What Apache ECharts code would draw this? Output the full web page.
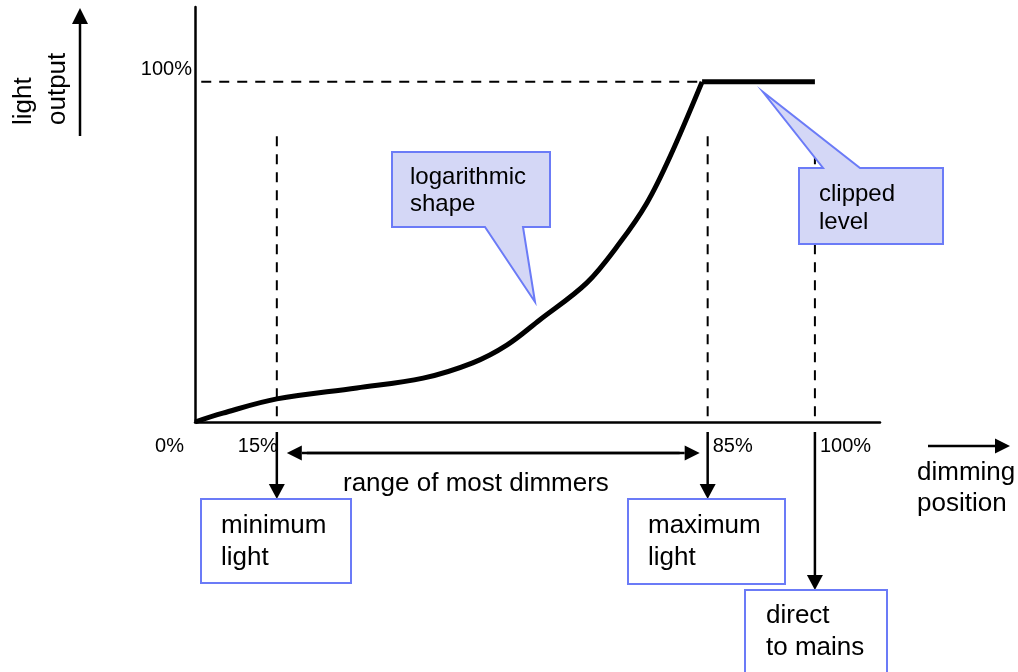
<!DOCTYPE html>
<html>
<head>
<meta charset="utf-8">
<script src="https://cdn.jsdelivr.net/npm/echarts@6/dist/echarts.min.js"></script>
<style>
  html, body { margin: 0; padding: 0; background: #fff; }
  #main { width: 1018px; height: 672px; }
</style>
</head>
<body>
<div id="main"></div>
<script>
// light output curve (x: dimming position units, y: % light)
const curveX = [0, 4.5, 13.2, 26.1, 36.8, 44.8, 50.3, 55.6, 63.2, 68.5, 72.9, 76.6, 81.8];
const curveY = [0, 2.6, 6.8, 10, 12.9, 17.4, 22.6, 30, 40.9, 52.6, 64.4, 77.9, 100];
// clipped part at full level
const clipX = [81.8, 100];
const clipY = [100, 100];
// vertical guide lines and their labels
const markerPos = [13.2, 82.7, 100];
const guideTop = 84;
const xLabels = ['0%', '15%', '85%', '100%'];
const xLabelPos = [0, 13.2, 82.7, 100];
const fullLevel = 100;
const yLabel = '100%';
const levelLineStart = -4.8;

const FONT = '"Liberation Sans", Arial, sans-serif';
const BLUE = '#6b7bf7';
const FILL = '#d4d7f6';

const chart = echarts.init(document.getElementById('main'));

const dash = { color: '#000', width: 2, type: [10, 8] };
const guideSeries = markerPos.map(x => ({
  type: 'line', symbol: 'none', silent: true, clip: false,
  lineStyle: dash,
  data: [[x, guideTop], [x, 0]]
}));

chart.setOption({
  animation: false,
  grid: { left: 195, right: 138, top: 7, bottom: 250 },
  xAxis: {
    type: 'value', min: 0, max: 110.5,
    axisLine: { show: true, lineStyle: { color: '#000', width: 2.5 } },
    axisTick: { show: false }, axisLabel: { show: false }, splitLine: { show: false }
  },
  yAxis: {
    type: 'value', min: 0, max: 122,
    axisLine: { show: true, lineStyle: { color: '#000', width: 2.5 } },
    axisTick: { show: false }, axisLabel: { show: false }, splitLine: { show: false }
  },
  series: [
    {
      type: 'line', symbol: 'none', silent: true, clip: false,
      lineStyle: dash,
      data: [[levelLineStart, fullLevel], [curveX[curveX.length - 1], fullLevel]]
    },
    ...guideSeries,
    {
      type: 'line', symbol: 'none', smooth: 0.35, silent: true, z: 5,
      lineStyle: { color: '#000', width: 5 },
      data: curveX.map((x, i) => [x, curveY[i]])
    },
    {
      type: 'line', symbol: 'none', silent: true, z: 5,
      lineStyle: { color: '#000', width: 5 },
      data: clipX.map((x, i) => [x, clipY[i]])
    }
  ]
});

const toPx = (x, y) => chart.convertToPixel({ gridIndex: 0 }, [x, y]);

function text(str, x, y, size, align, extra) {
  return Object.assign({
    type: 'text', x: x, y: y, z: 110,
    style: { text: str, fill: '#000', font: size + 'px ' + FONT, align: align || 'left', verticalAlign: 'middle' }
  }, extra || {});
}

function arrow(x1, y1, x2, y2, len, wid) {
  const ang = Math.atan2(y2 - y1, x2 - x1);
  const bx = x2 - len * Math.cos(ang), by = y2 - len * Math.sin(ang);
  const nx = -Math.sin(ang) * wid / 2, ny = Math.cos(ang) * wid / 2;
  return [
    { type: 'line', z: 100, shape: { x1: x1, y1: y1, x2: bx, y2: by }, style: { stroke: '#000', lineWidth: 2.5 } },
    { type: 'polygon', z: 100, shape: { points: [[x2, y2], [bx + nx, by + ny], [bx - nx, by - ny]] }, style: { fill: '#000' } }
  ];
}

function box(x, y, w, h) {
  return { type: 'rect', z: 105, shape: { x: x, y: y, width: w, height: h }, style: { fill: '#fff', stroke: BLUE, lineWidth: 2 } };
}

function callout(points) {
  return { type: 'polygon', z: 105, shape: { points: points }, style: { fill: FILL, stroke: BLUE, lineWidth: 2 } };
}

const origin = toPx(0, 0);
const px = markerPos.map(x => toPx(x, 0)[0]);
const axisY = origin[1];
const topY = toPx(0, fullLevel)[1];

const els = [];

// x labels
const xAlign = ['right', 'right', 'left', 'left'];
const xOff = [-11, 1, 5, 5];
xLabels.forEach((t, i) => {
  els.push(text(t, toPx(xLabelPos[i], 0)[0] + xOff[i], axisY + 24, 20, xAlign[i]));
});
els.push(text(yLabel, origin[0] - 3, topY - 12, 20, 'right'));

// arrows to boxes
els.push(...arrow(px[0], axisY + 10, px[0], 499, 15, 16));
els.push(...arrow(px[1], axisY + 10, px[1], 499, 15, 16));
els.push(...arrow(px[2], axisY + 10, px[2], 590, 15, 16));

// range arrow (double headed)
const rl = px[0] + 10, rr = px[1] - 8, ry = axisY + 31;
els.push(...arrow(rl + 20, ry, rr, ry, 15, 15));
els.push(...arrow(rr - 20, ry, rl, ry, 15, 15));
els.push(text('range of most dimmers', 343, 484, 26, 'left'));

// boxes
els.push(box(201, 499, 150, 84));
els.push(text('minimum', 221, 526, 26));
els.push(text('light', 221, 558, 26));
els.push(box(628, 499, 157, 85));
els.push(text('maximum', 648, 526, 26));
els.push(text('light', 648, 558, 26));
els.push(box(745, 590, 142, 100));
els.push(text('direct', 766, 616, 26));
els.push(text('to mains', 766, 648, 26));

// callouts
els.push(callout([[392, 152], [550, 152], [550, 227], [523, 227], [535, 302], [485, 227], [392, 227]]));
els.push(text('logarithmic', 410, 177, 24));
els.push(text('shape', 410, 204, 24));
els.push(callout([[799, 168], [823, 168], [763, 92], [860, 168], [943, 168], [943, 244], [799, 244]]));
els.push(text('clipped', 819, 194, 24));
els.push(text('level', 819, 222, 24));

// dimming position
els.push(...arrow(928, 446, 1010, 446, 15, 15));
els.push(text('dimming', 917, 473, 26));
els.push(text('position', 917, 504, 26));

// light output (vertical)
els.push(...arrow(80, 136, 80, 8, 16, 16));
els.push(text('light', 24, 125, 26, 'left', { rotation: Math.PI / 2 }));
els.push(text('output', 58, 125, 26, 'left', { rotation: Math.PI / 2 }));

chart.setOption({ graphic: { elements: els } });
</script>
</body>
</html>
